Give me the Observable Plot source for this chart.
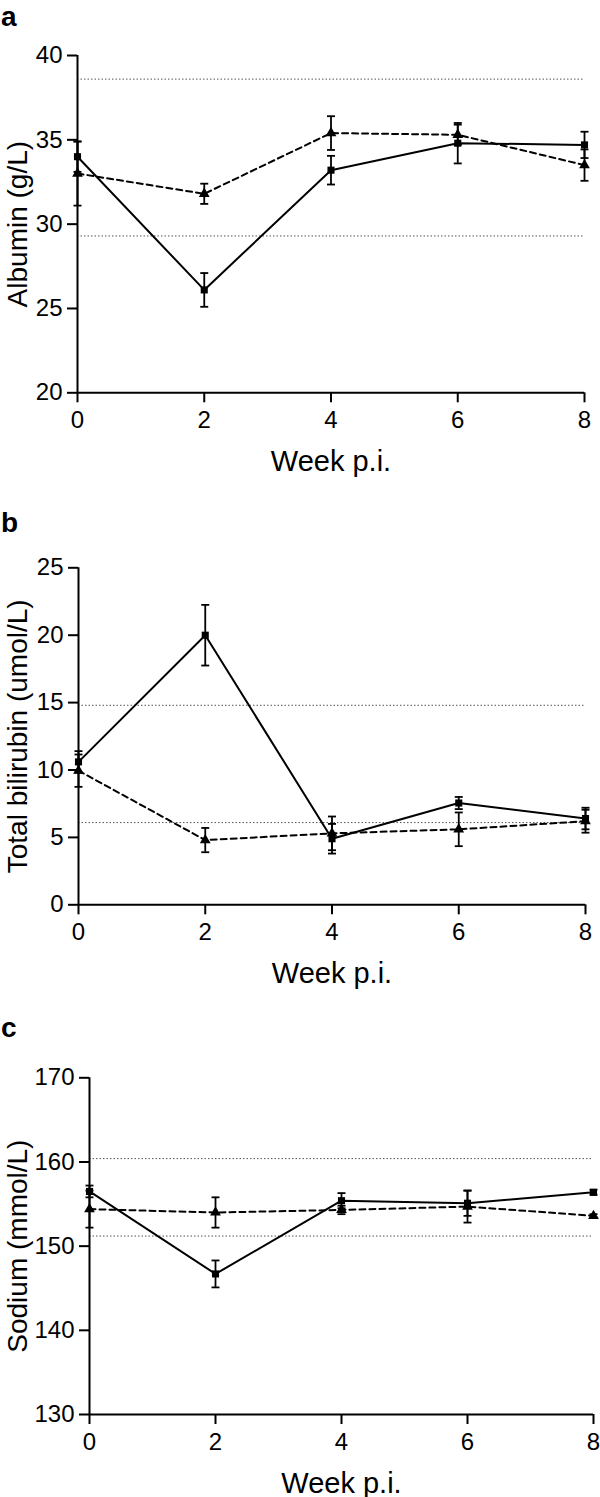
<!DOCTYPE html>
<html>
<head>
<meta charset="utf-8">
<script src="https://cdn.jsdelivr.net/npm/d3@7"></script>
<script src="https://cdn.jsdelivr.net/npm/@observablehq/plot@0.6"></script>
<style>
  html, body { margin: 0; padding: 0; background: #fff; }
  #wrap { position: relative; width: 600px; height: 1497px; overflow: hidden; font-family: "Liberation Sans", Arial, sans-serif; }
  .panel { position: absolute; left: 0; }
</style>
</head>
<body>
<div id="wrap"></div>
<script>
// ---------- data ----------
const weeks = [0, 2, 4, 6, 8];
const xTicks = [0, 2, 4, 6, 8];
const xLabel = "Week p.i.";

// Panel a: Albumin (g/L)
const albuminLabel = "Albumin (g/L)";
const albuminTicks = [20, 25, 30, 35, 40];
const albuminRef = [38.6, 29.3];
const albuminSquare = [34.0, 26.1, 33.2, 34.8, 34.7];
const albuminSquareErr = [0.9, 1.0, 0.85, 1.2, 0.78];
const albuminTriangle = [33.0, 31.8, 35.4, 35.3, 33.5];
const albuminTriangleErr = [1.9, 0.6, 1.0, 0.6, 0.93];

// Panel b: Total bilirubin (umol/L)
const bilirubinLabel = "Total bilirubin (umol/L)";
const bilirubinTicks = [0, 5, 10, 15, 20, 25];
const bilirubinRef = [14.8, 6.1];
const bilirubinSquare = [10.6, 20.0, 4.9, 7.55, 6.4];
const bilirubinSquareErr = [0.8, 2.25, 1.1, 0.45, 0.8];
const bilirubinTriangle = [9.95, 4.8, 5.3, 5.6, 6.2];
const bilirubinTriangleErr = [1.2, 0.9, 1.25, 1.25, 0.85];

// Panel c: Sodium (mmol/L)
const sodiumLabel = "Sodium (mmol/L)";
const sodiumTicks = [130, 140, 150, 160, 170];
const sodiumRef = [160.4, 151.2];
const sodiumSquare = [156.5, 146.7, 155.4, 155.1, 156.4];
const sodiumSquareErr = [0.7, 1.6, 0.9, 1.5, 0.3];
const sodiumTriangle = [154.4, 154.0, 154.3, 154.7, 153.6];
const sodiumTriangleErr = [2.2, 1.8, 0.5, 1.9, 0.2];

// ---------- drawing ----------
const capSymbol = {
  draw(ctx, size) {
    const w = Math.sqrt(size) / 2;
    ctx.moveTo(-w, 0);
    ctx.lineTo(w, 0);
  }
};

function rows(values, errs) {
  return weeks.map((w, i) => ({week: w, v: values[i], e: errs[i]}));
}

function errorMarks(data) {
  return [
    Plot.ruleX(data, {x: "week", y1: d => d.v - d.e, y2: d => d.v + d.e, stroke: "black", strokeWidth: 1.8}),
    Plot.dot(data, {x: "week", y: d => d.v + d.e, symbol: capSymbol, r: 4.5, fill: "none", stroke: "black", strokeWidth: 1.8}),
    Plot.dot(data, {x: "week", y: d => d.v - d.e, symbol: capSymbol, r: 4.5, fill: "none", stroke: "black", strokeWidth: 1.8})
  ];
}

const FONT = "Liberation Sans, Arial, Helvetica, sans-serif";

function makePanel(cfg) {
  const sq = rows(cfg.sq, cfg.sqErr);
  const tri = rows(cfg.tri, cfg.triErr);
  const svg = Plot.plot({
    width: 600,
    height: cfg.height,
    marginLeft: cfg.marginLeft,
    marginRight: cfg.marginRight,
    marginTop: cfg.marginTop,
    marginBottom: cfg.marginBottom,
    x: {domain: [0, 8], ticks: xTicks},
    y: {domain: [cfg.ticks[0], cfg.ticks[cfg.ticks.length - 1]], ticks: cfg.ticks},
    style: {fontFamily: FONT, color: "black", background: "white", overflow: "visible"},
    marks: [
      Plot.ruleY(cfg.ref, {stroke: "#555", strokeWidth: 1, strokeDasharray: "1.5,2"}),
      Plot.axisY({ticks: cfg.ticks, tickSize: 10, tickPadding: 5, fontSize: 24, strokeWidth: 2, label: null}),
      Plot.axisX({ticks: xTicks, tickSize: 10, tickPadding: 8, fontSize: 24, strokeWidth: 2, label: null}),
      Plot.ruleX([0], {stroke: "black", strokeWidth: 2}),
      Plot.ruleY([cfg.ticks[0]], {stroke: "black", strokeWidth: 2}),
      ...errorMarks(tri),
      ...errorMarks(sq),
      Plot.line(tri, {x: "week", y: "v", stroke: "black", strokeWidth: 2, strokeDasharray: "6,4"}),
      Plot.line(sq, {x: "week", y: "v", stroke: "black", strokeWidth: 2}),
      Plot.dot(tri, {x: "week", y: "v", symbol: "triangle", r: 4, fill: "black", stroke: "none"}),
      Plot.dot(sq, {x: "week", y: "v", symbol: "square", r: 4, fill: "black", stroke: "none"}),
      Plot.text([cfg.label], {frameAnchor: "left", textAnchor: "middle", rotate: -90, lineAnchor: "bottom", dx: 26 - cfg.marginLeft, fontSize: 28, fill: "black"}),
      Plot.text([xLabel], {frameAnchor: "bottom", textAnchor: "middle", lineAnchor: "bottom", dy: 78, fontSize: 29, fill: "black"})
    ]
  });
  d3.select(svg).append("text")
    .attr("x", 1).attr("y", cfg.letterY)
    .attr("text-anchor", "start")
    .attr("font-family", FONT).attr("font-size", 28).attr("font-weight", "bold")
    .attr("fill", "black")
    .text(cfg.letter);
  const holder = document.createElement("div");
  holder.className = "panel";
  holder.style.top = cfg.top + "px";
  holder.appendChild(svg);
  document.getElementById("wrap").appendChild(holder);
}

makePanel({
  letter: "a", letterY: 26, top: 0, height: 510,
  marginLeft: 77, marginRight: 16, marginTop: 55, marginBottom: 510 - 392.3,
  label: albuminLabel, ticks: albuminTicks, ref: albuminRef,
  sq: albuminSquare, sqErr: albuminSquareErr, tri: albuminTriangle, triErr: albuminTriangleErr
});
makePanel({
  letter: "b", letterY: 22, top: 510, height: 510,
  marginLeft: 78, marginRight: 15, marginTop: 57.3, marginBottom: 510 - 394.3,
  label: bilirubinLabel, ticks: bilirubinTicks, ref: bilirubinRef,
  sq: bilirubinSquare, sqErr: bilirubinSquareErr, tri: bilirubinTriangle, triErr: bilirubinTriangleErr
});
makePanel({
  letter: "c", letterY: 17, top: 1020, height: 477,
  marginLeft: 89, marginRight: 7, marginTop: 57.3, marginBottom: 477 - 394,
  label: sodiumLabel, ticks: sodiumTicks, ref: sodiumRef,
  sq: sodiumSquare, sqErr: sodiumSquareErr, tri: sodiumTriangle, triErr: sodiumTriangleErr
});
</script>
</body>
</html>
